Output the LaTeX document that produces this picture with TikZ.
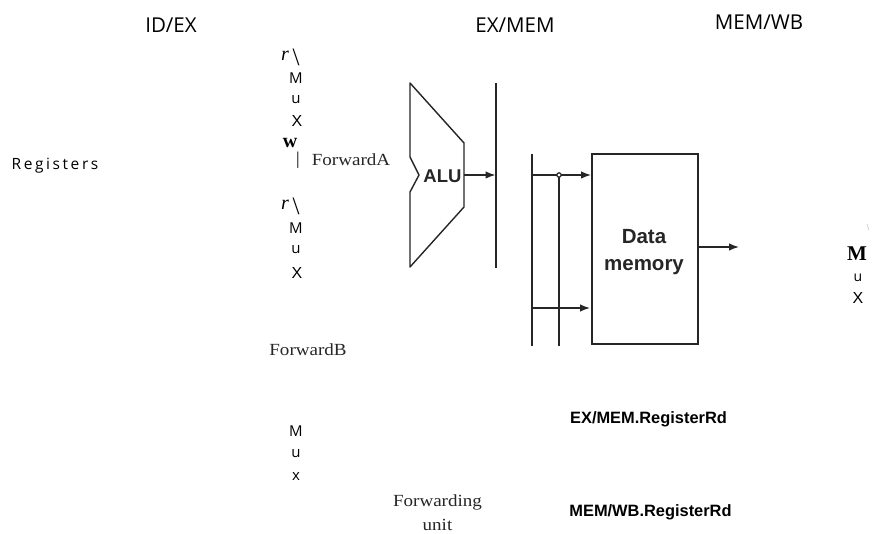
\documentclass[tikz,border=0pt]{standalone}
\usepackage{fontspec}
\setmainfont{Liberation Serif}
\setsansfont{Open Sans}
\newfontfamily\arialf{Liberation Sans}
\newfontfamily\serw[FakeStretch=1.12]{Liberation Serif}
\usetikzlibrary{arrows.meta}
\newcommand{\fs}[1]{\fontsize{#1}{#1}\selectfont}
\tikzset{
  x=1pt,y=-1pt,
  wire/.style={draw=black!85,line width=1.4pt},
  flow/.style={wire,-{Latex[length=10pt,width=7.5pt]}},
  hdr/.style={inner sep=0pt,font=\sffamily\fs{20.5}},
  muxs/.style={inner sep=0pt,font=\sffamily\fs{15}},
  muxb/.style={inner sep=0pt,font=\arialf\fs{16}},
  ser/.style={inner sep=0pt,font=\serw\fs{17},text=black!85,align=center},
  ital/.style={inner sep=0pt,font=\rmfamily\itshape\fs{20}},
  slash/.style={inner sep=0pt,font=\rmfamily\fs{25}},
  blockt/.style={inner sep=0pt,font=\arialf\bfseries\fs{20.5},text=black!85,align=center},
  regt/.style={inner sep=0pt,font=\arialf\bfseries\fs{16.4}},
}
\begin{document}
\begin{tikzpicture}
\useasboundingbox (0,0) rectangle (874,534);
\fill[white] (0,0) rectangle (874,534);
% headers
\node[hdr] (h1) at (171,25) {ID/EX};
\node[hdr] (h2) at (515,25) {EX/MEM};
\node[hdr] (h3) at (759,22) {MEM/WB};
\node[inner sep=0pt,font=\sffamily\fs{15.5}] (regs) at (55,166) {R\,e\,g\,i\,s\,t\,e\,r\,s};
% first mux
\node[ital] (r1) at (285,56) {r};
\node[slash] (b1) at (296,57) {\textbackslash};
\node[muxs] (m1) at (296,78) {M};
\node[muxs] (u1) at (296,100) {u};
\node[muxb] (x1) at (297,121) {X};
\node[inner sep=0pt,font=\rmfamily\bfseries\fs{20}] (w1) at (290,143) {w};
\node[inner sep=0pt,font=\rmfamily\fs{18}] (p1) at (298,160) {|};
\node[ser] (fa) at (351,160) {ForwardA};
% second mux
\node[ital] (r2) at (285,205) {r};
\node[slash] (b2) at (296,206) {\textbackslash};
\node[muxs] (m2) at (296,228) {M};
\node[muxs] (u2) at (296,250) {u};
\node[muxb] (x2) at (297,273) {X};
\node[ser] (fb) at (308,350) {ForwardB};
% third mux
\node[muxs] (m3) at (296,431) {M};
\node[muxs] (u3) at (296,454) {u};
\node[muxs] (x3) at (296,476) {x};
\node[ser] (fu) at (437.5,513) {Forwarding\\[7pt]unit};
% ALU
\draw[wire,line join=round] (410,83) -- (464,143) -- (464,207) -- (410,267) -- (410,192) -- (419,175) -- (410,157) -- cycle;
\node[blockt,font=\arialf\bfseries\fs{18.5}] (alu) at (442.5,176) {ALU};
\coordinate (aluo) at (464,175);
\draw[wire] (496,83) -- (496,268);
\coordinate (exm) at (495.5,175);
\draw[flow] (aluo) -- (exm);
% data memory
\node[draw=black!85,line width=1.5pt,minimum width=106pt,minimum height=190pt,inner sep=0pt] (dm) at (645,249) {};
\node[blockt] (dmt) at (644,252) {Data\\[6pt]memory};
\coordinate (b1t) at (532,154);
\coordinate (b1b) at (532,346);
\coordinate (b2t) at (559,175);
\coordinate (b2b) at (559,346);
\coordinate (i1) at (532,175);
\coordinate (i2) at (532,308);
\coordinate (d1) at (591,175);
\coordinate (d2) at (590,308);
\coordinate (o1) at (698,247);
\coordinate (o2) at (739,247);
\draw[wire] (b1t) -- (b1b);
\draw[wire] (b2t) -- (b2b);
\draw[flow] (i1) -- (d1);
\draw[flow] (i2) -- (d2);
\draw[flow] (o1) -- (o2);
\draw[black!85,line width=1.2pt,fill=white] (b2t) circle (2.2pt);
% right mux
\node[inner sep=0pt,font=\rmfamily\bfseries\fs{21}] (m4) at (857,254) {M};
\node[muxs,font=\sffamily\fs{14}] (u4) at (858,278) {u};
\node[muxb] (x4) at (858,298) {X};
\node[inner sep=0pt,font=\rmfamily\fs{9},text=black!40] (b4) at (868,228) {\textbackslash};
% register labels
\node[regt] (r5) at (648.5,419) {EX/MEM.RegisterRd};
\node[regt] (r6) at (650.5,512) {MEM/WB.RegisterRd};
\end{tikzpicture}
\end{document}
